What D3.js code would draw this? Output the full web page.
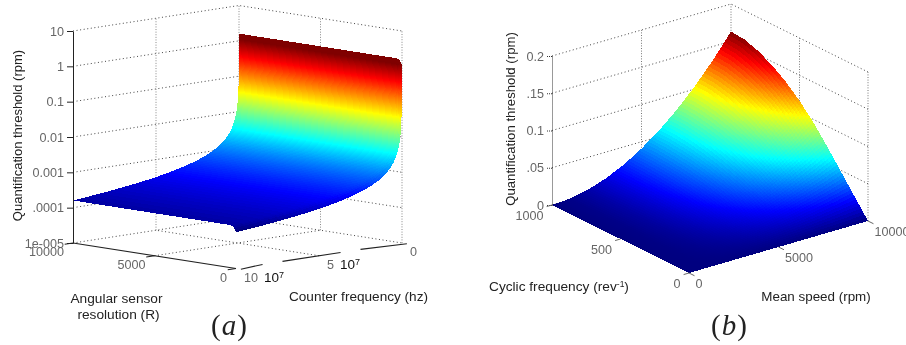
<!DOCTYPE html>
<html>
<head>
<meta charset="utf-8">
<style>
body { margin: 0; background: #fff; }
text { font-family: "Liberation Sans", Arial, sans-serif; }
svg { filter: blur(0.3px); }
</style>
<script src="https://cdnjs.cloudflare.com/ajax/libs/d3/7.8.5/d3.min.js"></script>
</head>
<body>
<div id="chart"></div>
<script>
// panel (a), values
var aFreq = [1e4, 1.2e4, 1.8e4, 2.6e4, 3.8e4, 5.5e4, 8e4, 1.2e5, 1.8e5, 2.6e5, 3.8e5, 5.5e5, 8e5, 1.2e6, 1.8e6, 2.6e6, 3.8e6, 5.5e6, 8e6, 1.2e7, 1.7e7, 2.5e7, 3.5e7, 5e7, 7e7, 1e8];
var aThreshold = [1.6, 1.3, 0.89, 0.62, 0.42, 0.29, 0.2, 0.13, 0.089, 0.062, 0.042, 0.029, 0.02, 0.013, 0.0089, 0.0062, 0.0042, 0.0029, 0.002, 0.0013, 0.00094, 0.00064, 0.00046, 0.00032, 0.00023, 0.00016];
var aResolution = [10000, 5000, 1000, 400, 270, 180, 100, 40, 0];
var aResolutionFactor = [1, 1, 1, 1, 0.98, 0.93, 0.85, 0.74, 0.66];
var aZTicks = [10, 1, 0.1, 0.01, 0.001, 0.0001, 0.00001];
var aZLabels = ["10", "1", "0.1", "0.01", "0.001", ".0001", "1e-005"];
var aResTicks = [10000, 5000, 0];
var aResLabels = ["10000", "5000", "0"];
var aFreqTicks = [0, 5e7, 1e8];
var aFreqLabels = ["0", "5", "10"];

// panel (b)
var bSpeed = [0, 1000, 2000, 3000, 4000, 5000, 6000, 7000, 8000, 9000, 10000];
var bSpeedThreshold = [0, 0.0016, 0.0065, 0.0147, 0.0261, 0.0408, 0.0587, 0.0799, 0.1043, 0.132, 0.163];
var bCycle = [0, 100, 200, 300, 400, 500, 600, 700, 800, 900, 1000];
var bCycleFactor = [0, 0.15, 0.3, 0.45, 0.59, 0.71, 0.81, 0.89, 0.95, 0.99, 1];
var bZTicks = [0, 0.05, 0.1, 0.15, 0.2];
var bZLabels = ["0", ".05", "0.1", ".15", "0.2"];
var bCycleTicks = [1000, 500, 0];
var bSpeedTicks = [0, 5000, 10000];

var tickColor = "#666";
var labelColor = "#222";

var svg = d3.select("#chart").append("svg")
	.attr("width", 906)
	.attr("height", 345)
	.style("display", "block");

svg.append("rect").attr("width", 906).attr("height", 345).attr("fill", "#fff");

// jet colormap
var jet = d3.scaleLinear()
	.domain([0, 0.125, 0.375, 0.625, 0.875, 1])
	.range(["#00007f", "#0000ff", "#00ffff", "#ffff00", "#ff0000", "#7f0000"])
	.clamp(true);

var line = d3.line();

function gridLines(g, lines, colour, dash) {
	g.append("g").selectAll("path")
		.data(lines)
		.join("path")
		.attr("d", function (d) { return line(d); })
		.attr("fill", "none")
		.attr("stroke", colour)
		.attr("stroke-width", 1)
		.attr("stroke-dasharray", dash);
}

function solidLines(g, lines) {
	g.append("g").selectAll("path")
		.data(lines)
		.join("path")
		.attr("d", function (d) { return line(d); })
		.attr("fill", "none")
		.attr("stroke", "#222")
		.attr("stroke-width", 1.1);
}

// crispEdges keeps the white page from showing through the seams between cells
function surface(g, cells) {
	g.append("g").attr("shape-rendering", "crispEdges").selectAll("path")
		.data(cells)
		.join("path")
		.attr("d", function (d) { return line(d.p) + "Z"; })
		.attr("fill", function (d) { return d.c; });
}

function tickText(g, x, y, txt, anchor) {
	return g.append("text")
		.attr("x", x)
		.attr("y", y)
		.attr("dy", "0.35em")
		.attr("text-anchor", anchor)
		.attr("font-size", 12.6)
		.attr("fill", tickColor)
		.text(txt);
}

function axisTitle(g, x, y, txt, anchor, size) {
	return g.append("text")
		.attr("x", x)
		.attr("y", y)
		.attr("text-anchor", anchor)
		.attr("font-size", size)
		.attr("fill", labelColor)
		.text(txt);
}

function yTitle(g, x, y, txt, size) {
	g.append("text")
		.attr("transform", "translate(" + x + "," + y + ") rotate(-90)")
		.attr("text-anchor", "middle")
		.attr("font-size", size)
		.attr("fill", labelColor)
		.text(txt);
}

function caption(g, x, y, letter) {
	var t = g.append("text")
		.attr("x", x)
		.attr("y", y)
		.attr("text-anchor", "middle")
		.attr("font-size", 29)
		.attr("fill", "#222")
		.style("font-family", "'Liberation Serif', serif");
	t.append("tspan").text("(");
	t.append("tspan").attr("font-style", "italic").attr("dx", 1).text(letter);
	t.append("tspan").attr("dx", 1).text(")");
}

// ---------- panel (a) ----------
var gA = svg.append("g");

var resA = d3.scaleLinear().domain([0, 10000]).range([0, 1]);
var freqA = d3.scaleLinear().domain([0, 1e8]).range([0, 1]);
var zA = d3.scaleLog().domain([1e-5, 10]).range([212, 0]);
var colourA = d3.scaleLog().domain([1.17e-4, 1.1]).range([0, 1]);

function projA(R, f, z) {
	var r = resA(R), c = freqA(f);
	return [402 - 163 * r - 166 * c, 243 - 25.5 * r + 25.5 * c - (212 - zA(z))];
}

var aFloor = 1e-5;
gridLines(gA, aZTicks.map(function (z) {
	return [projA(10000, 1e8, z), projA(10000, 0, z), projA(0, 0, z)];
}).concat([
	[projA(5000, 1e8, aFloor), projA(5000, 0, aFloor)],
	[projA(0, 5e7, aFloor), projA(10000, 5e7, aFloor)]
]), "#444", "1 2.6");
gridLines(gA, [
	[projA(10000, 5e7, aFloor), projA(10000, 5e7, 10)],
	[projA(10000, 0, aFloor), projA(10000, 0, 10)],
	[projA(5000, 0, aFloor), projA(5000, 0, 10)],
	[projA(0, 0, aFloor), projA(0, 0, 10)]
], "#888", "1 1.6");

// surface is painted from the low frequency edge forwards
var aCells = [];
var rowSteps = 6;
for (var i = 0; i < aFreq.length - 1; i++) {
	for (var k = 0; k < rowSteps; k++) {
		var ratioF = aFreq[i + 1] / aFreq[i], ratioZ = aThreshold[i + 1] / aThreshold[i];
		var f0 = aFreq[i] * Math.pow(ratioF, k / rowSteps), f1 = aFreq[i] * Math.pow(ratioF, (k + 1) / rowSteps);
		var z0 = aThreshold[i] * Math.pow(ratioZ, k / rowSteps), z1 = aThreshold[i] * Math.pow(ratioZ, (k + 1) / rowSteps);
		for (var j = 0; j < aResolution.length - 1; j++) {
			var fa = aResolutionFactor[j], fb = aResolutionFactor[j + 1];
			aCells.push({
				p: [
					projA(aResolution[j], f0, z0 * fa),
					projA(aResolution[j + 1], f0, z0 * fb),
					projA(aResolution[j + 1], f1, z1 * fb),
					projA(aResolution[j], f1, z1 * fa)
				],
				c: jet(colourA(Math.sqrt(z0 * z1) * Math.sqrt(fa * fb)))
			});
		}
	}
}
surface(gA, aCells);

// z axis
var axisA = d3.axisLeft(zA)
	.tickValues(aZTicks)
	.tickFormat(function (d, i) { return aZLabels[i]; })
	.tickSize(6)
	.tickSizeOuter(0)
	.tickPadding(3);
var axA = gA.append("g")
	.attr("transform", "translate(73,31)")
	.call(axisA);
axA.selectAll("path,line").attr("stroke", "#222");
axA.selectAll("text")
	.attr("font-size", 12.6)
	.attr("fill", tickColor)
	.style("font-family", "'Liberation Sans', Arial, sans-serif");

// floor axes, the counter frequency one has gaps under the pasted 10^7 labels
solidLines(gA, [
	[projA(10000, 1e8, aFloor), projA(0, 1e8, aFloor)],
	[projA(-300, 0, aFloor), projA(0, 0.25e8, aFloor)],
	[projA(0, 0.37e8, aFloor), projA(0, 0.72e8, aFloor)],
	[projA(0, 0.84e8, aFloor), projA(-300, 1e8, aFloor)]
]);
solidLines(gA, aResTicks.map(function (d) {
	return [projA(d, 1e8, aFloor), projA(d, 1.05e8, aFloor)];
}));

aResTicks.forEach(function (d, i) {
	var p = projA(d, 1e8, aFloor);
	tickText(gA, p[0] - 9, p[1] + 9, aResLabels[i], "end");
});
aFreqTicks.forEach(function (d, i) {
	var p = projA(0, d, aFloor);
	var t = tickText(gA, p[0] + 8, p[1] + 9, aFreqLabels[i], "start");
	if (i > 0) {
		t.append("tspan").attr("dx", 6).attr("font-size", 13.5).attr("fill", "#111").text("10");
		t.append("tspan").attr("dy", -4).attr("font-size", 9).attr("fill", "#111").text("7");
	}
});

yTitle(gA, 22, 135.5, "Quantification threshold (rpm)", 13);
axisTitle(gA, 116.5, 303, "Angular sensor", "middle", 13.7);
axisTitle(gA, 118.5, 319, "resolution (R)", "middle", 13.7);
axisTitle(gA, 358.5, 301, "Counter frequency (hz)", "middle", 13.6);
caption(gA, 229, 335, "a");

// ---------- panel (b) ----------
var gB = svg.append("g");

var speedB = d3.scaleLinear().domain([0, 10000]).range([0, 1]);
var cycleB = d3.scaleLinear().domain([0, 1000]).range([0, 1]);
var zB = d3.scaleLinear().domain([0, 0.2]).range([149, 0]);
var colourB = d3.scaleLinear().domain([0, 0.163]).range([0, 1]);
var thresholdOfSpeed = d3.scaleLinear().domain(bSpeed).range(bSpeedThreshold);
var factorOfCycle = d3.scaleLinear().domain(bCycle).range(bCycleFactor);

function projB(S, C, z) {
	var s = speedB(S), t = cycleB(C);
	return [689 + 179 * s - 137 * t, 273 - 52 * s - 68 * t - (149 - zB(z))];
}

gridLines(gB, bZTicks.map(function (z) {
	return [projB(0, 1000, z), projB(10000, 1000, z), projB(10000, 0, z)];
}), "#444", "1 2.6");
gridLines(gB, [
	[projB(5000, 1000, 0), projB(5000, 1000, 0.2)],
	[projB(10000, 1000, 0), projB(10000, 1000, 0.2)],
	[projB(10000, 500, 0), projB(10000, 500, 0.2)],
	[projB(10000, 0, 0), projB(10000, 0, 0.2)]
], "#777", "1 1.6");

// far corner first; the mesh is just finer than the table so the shading comes out smooth
var bCells = [];
var meshSteps = 80;
for (var a = meshSteps - 1; a >= 0; a--) {
	for (var b = meshSteps - 1; b >= 0; b--) {
		var s0 = 10000 * a / meshSteps, s1 = 10000 * (a + 1) / meshSteps;
		var c0 = 1000 * b / meshSteps, c1 = 1000 * (b + 1) / meshSteps;
		var h00 = thresholdOfSpeed(s0) * factorOfCycle(c0), h10 = thresholdOfSpeed(s1) * factorOfCycle(c0);
		var h11 = thresholdOfSpeed(s1) * factorOfCycle(c1), h01 = thresholdOfSpeed(s0) * factorOfCycle(c1);
		bCells.push({
			p: [projB(s0, c0, h00), projB(s1, c0, h10), projB(s1, c1, h11), projB(s0, c1, h01)],
			c: jet(colourB((h00 + h10 + h11 + h01) / 4))
		});
	}
}
surface(gB, bCells);

var axisB = d3.axisLeft(zB)
	.tickValues(bZTicks)
	.tickFormat(function (d, i) { return bZLabels[i]; })
	.tickSize(5)
	.tickSizeOuter(0)
	.tickPadding(3);
var axB = gB.append("g")
	.attr("transform", "translate(552,56)")
	.call(axisB);
axB.selectAll("path,line").attr("stroke", "#333").attr("stroke-dasharray", "1 1");
axB.selectAll("text")
	.attr("font-size", 12.6)
	.attr("fill", tickColor)
	.style("font-family", "'Liberation Sans', Arial, sans-serif");

gridLines(gB, bCycleTicks.map(function (d) {
	return [projB(0, d, 0), projB(-300, d, 0)];
}).concat(bSpeedTicks.map(function (d) {
	return [projB(d, 0, 0), projB(d, -40, 0)];
})), "#666", "none");

bCycleTicks.forEach(function (d) {
	var p = projB(0, d, 0);
	tickText(gB, p[0] - 8.5, p[1] + 10.5, String(d), "end");
});
bSpeedTicks.forEach(function (d) {
	var p = projB(d, 0, 0);
	tickText(gB, p[0] + 6.5, p[1] + 11, String(d), "start");
});

yTitle(gB, 515, 119, "Quantification threshold (rpm)", 13.2);
var cyc = axisTitle(gB, 489, 290.5, "Cyclic frequency (rev", "start", 13.7);
cyc.append("tspan").attr("dy", -4).attr("font-size", 8.5).text("-1");
cyc.append("tspan").attr("dy", 4).text(")");
axisTitle(gB, 816, 301, "Mean speed (rpm)", "middle", 13.4);
caption(gB, 729, 335, "b");
</script>
</body>
</html>
